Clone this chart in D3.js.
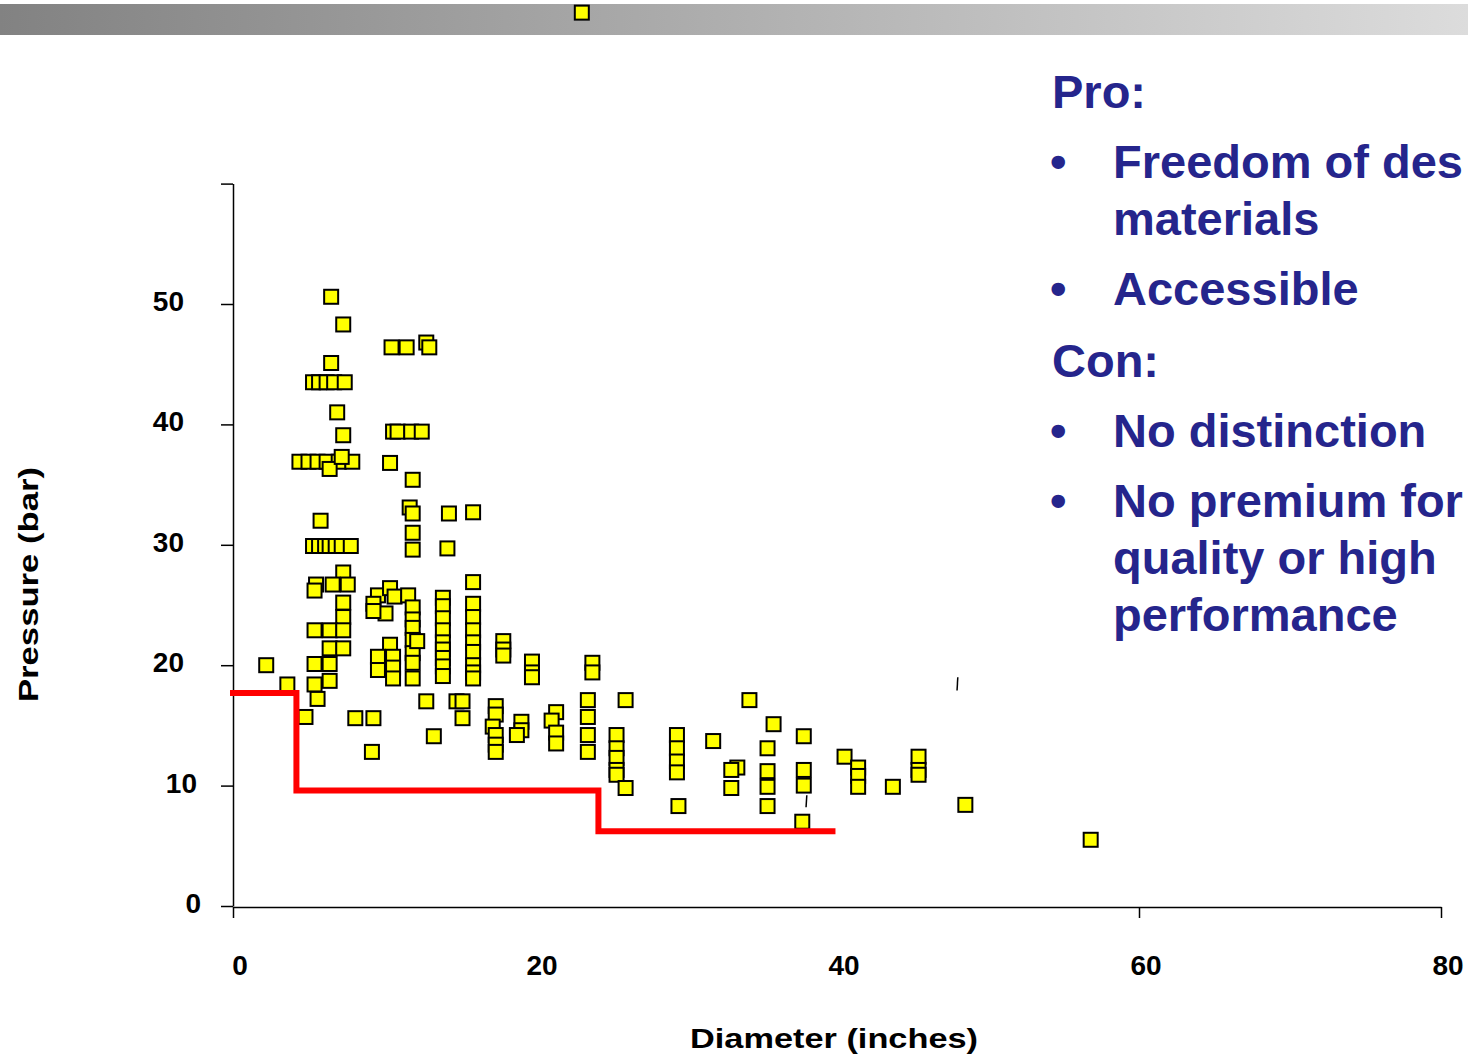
<!DOCTYPE html>
<html>
<head>
<meta charset="utf-8">
<script src="https://cdn.jsdelivr.net/npm/d3@7"></script>
<style>
  html, body { margin: 0; padding: 0; background: #ffffff; overflow: hidden; }
  svg { display: block; }
</style>
</head>
<body>
<script>
// Pipe diameter (inches) and pressure rating (bar) for each product
const diameter = [
  23.1, 6.5, 7.3, 10.5, 11.5, 12.8, 13.0, 6.5,
  5.3, 5.7, 6.2, 6.7, 7.4, 6.9,
  10.6, 10.9, 11.8, 12.5, 7.3,
  4.4, 5.0, 5.6, 6.2, 7.0, 7.9, 6.4, 7.2, 10.4,
  11.9, 11.7, 11.9, 14.3, 15.9, 5.8, 11.9, 11.9, 14.2,
  5.3, 5.7, 6.1, 6.4, 6.8, 7.2, 7.8,
  7.3, 5.5, 5.4, 6.6, 7.6, 7.3, 7.3,
  5.4, 6.4, 7.3, 6.4, 7.3, 5.4, 6.4, 5.4, 6.4, 5.6, 3.6, 2.2, 4.8, 8.1, 9.3, 9.2,
  9.6, 9.3, 10.4, 10.7, 11.6, 10.1, 9.3,
  11.9, 11.9, 11.9, 11.9, 11.9, 11.9, 11.9, 12.2,
  10.4, 9.6, 9.6, 10.6, 10.6, 10.6,
  13.9, 13.9, 13.9, 13.9, 13.9, 13.9, 13.9, 13.9, 13.9,
  15.9, 15.9, 15.9, 15.9, 15.9, 15.9, 15.9, 15.9, 15.9,
  17.9, 17.9, 17.9, 19.8, 19.8, 19.8, 23.8, 23.8,
  12.8, 14.8, 15.2, 15.2, 13.3,
  17.4, 17.4, 17.2, 17.4, 17.4, 17.4,
  19.1, 19.1, 18.8,
  21.4, 21.1, 21.4, 21.4,
  23.5, 23.5, 23.5, 23.5,
  25.4, 25.4, 25.4, 25.4, 25.4, 26.0, 26.0,
  29.4, 29.4, 29.4, 29.4, 29.5, 31.8,
  33.4, 33.0, 33.0, 34.2, 35.8,
  35.4, 35.4, 35.4, 35.4,
  37.8, 37.8, 37.8, 37.7,
  40.5, 41.4, 41.4, 41.4, 43.7,
  45.4, 45.4, 45.4, 48.5, 56.8
];
const pressure = [
  74.2, 50.6, 48.3, 46.4, 46.4, 46.8, 46.4, 45.1,
  43.5, 43.5, 43.5, 43.5, 43.5, 41.0,
  39.4, 39.4, 39.4, 39.4, 39.1,
  36.9, 36.9, 36.9, 36.9, 36.9, 36.9, 36.3, 37.3, 36.8,
  35.4, 33.1, 32.6, 32.6, 32.7, 32.0, 31.0, 29.6, 29.7,
  29.9, 29.9, 29.9, 29.9, 29.9, 29.9, 29.9,
  27.7, 26.7, 26.2, 26.7, 26.7, 25.2, 24.0,
  22.9, 22.9, 22.9, 21.4, 21.4, 20.1, 20.1, 18.4, 18.7, 17.2, 18.4, 20.0, 15.7, 15.6, 15.6, 12.8,
  25.8, 25.1, 26.4, 25.7, 25.8, 24.3, 24.5,
  24.8, 23.8, 23.1, 22.1, 21.0, 20.2, 18.9, 22.0,
  21.7, 20.7, 19.6, 20.7, 19.8, 18.9,
  25.6, 24.9, 23.9, 22.9, 21.9, 21.3, 20.6, 19.9, 19.1,
  26.9, 25.1, 24.0, 22.9, 21.9, 21.1, 20.0, 19.4, 18.9,
  22.0, 21.3, 20.8, 20.3, 19.4, 19.0, 20.2, 19.4,
  17.0, 17.0, 17.0, 15.6, 14.1,
  16.6, 15.9, 14.9, 14.2, 13.4, 12.8,
  15.3, 14.6, 14.2,
  16.1, 15.4, 14.4, 13.5,
  17.1, 15.7, 14.2, 12.8,
  14.2, 13.1, 12.3, 11.3, 10.9, 17.1, 9.8,
  14.2, 13.1, 12.0, 11.1, 8.3, 13.7,
  11.5, 11.3, 9.8, 17.1, 15.1,
  13.1, 11.2, 9.9, 8.3,
  14.1, 11.3, 10.0, 7.0,
  12.4, 11.5, 10.8, 9.9, 9.9,
  12.4, 11.3, 10.9, 8.4, 5.5
];

// Short error-bar stubs: [diameter from, diameter to] / [pressure from, pressure to]
const stubDiameter = [[48.0, 47.95], [38.0, 37.95]];
const stubPressure = [[19.0, 17.9], [9.2, 8.2]];

// Minimum pressure requirement, stepping down with diameter
const limitDiameter = [0, 4.2, 24.2, 39.7];
const limitPressure = [17.7, 9.6, 6.2, 6.2];

// Axis ticks
const xTickMarks = [0, 60, 80];
const xTickLabels = [0, 20, 40, 60, 80];
const yTickMarks = [0, 10, 20, 30, 40, 50, 60];
const yTickLabels = [0, 10, 20, 30, 40, 50];

// Side notes
const proHeading = "Pro:";
const proItems = [["Freedom of des", "materials"], ["Accessible"]];
const conHeading = "Con:";
const conItems = [["No distinction"], ["No premium for", "quality or high", "performance"]];

const W = 1468, H = 1059;
const FONT = "'Liberation Sans', Arial, Helvetica, sans-serif";
const NAVY = "#25258c";

const svg = d3.select("body").append("svg")
  .attr("width", W).attr("height", H)
  .attr("viewBox", `0 0 ${W} ${H}`);

// Header band
const grad = svg.append("defs").append("linearGradient")
  .attr("id", "band").attr("x1", "0%").attr("x2", "100%");
grad.append("stop").attr("offset", "0%").attr("stop-color", "#828282");
grad.append("stop").attr("offset", "100%").attr("stop-color", "#dcdcdc");
svg.append("rect").attr("x", 0).attr("y", 4).attr("width", W).attr("height", 31)
  .attr("fill", "url(#band)");

const x = d3.scaleLinear().domain([0, 80]).range([233, 1441]);
const y = d3.scaleLinear().domain([0, 60]).range([906, 183.6]);

// Y axis
const yAxis = svg.append("g").attr("transform", `translate(${x(0)},0)`)
  .call(d3.axisLeft(y).tickValues(yTickMarks).tickSize(12).tickSizeOuter(0).tickFormat(""));
yAxis.selectAll("path, line").attr("stroke", "#000").attr("stroke-width", 1.5);

// X axis
const xAxis = svg.append("g").attr("transform", `translate(0,${y(0) + 1})`)
  .call(d3.axisBottom(x).tickValues(xTickMarks).tickSize(11).tickSizeOuter(0).tickFormat(""));
xAxis.selectAll("path, line").attr("stroke", "#000").attr("stroke-width", 1.5);

// Tick labels
const yLabelNudge = v => (v === 10 ? 13 : v === 0 ? 17 : 0);
svg.append("g").selectAll("text").data(yTickLabels).join("text")
  .attr("x", d => 184 + yLabelNudge(d))
  .attr("y", d => y(d) + 7)
  .attr("text-anchor", "end")
  .attr("font-family", FONT).attr("font-weight", "bold").attr("font-size", 28)
  .attr("fill", "#000")
  .text(d => d);

svg.append("g").selectAll("text").data(xTickLabels).join("text")
  .attr("x", d => x(d) + 7)
  .attr("y", 975)
  .attr("text-anchor", "middle")
  .attr("font-family", FONT).attr("font-weight", "bold").attr("font-size", 28)
  .attr("fill", "#000")
  .text(d => d);

// Axis titles
svg.append("text")
  .attr("x", 690).attr("y", 1048)
  .attr("textLength", 288).attr("lengthAdjust", "spacingAndGlyphs")
  .attr("font-family", FONT).attr("font-weight", "bold").attr("font-size", 28)
  .attr("fill", "#000")
  .text("Diameter (inches)");

svg.append("text")
  .attr("transform", "translate(38,702) rotate(-90)")
  .attr("textLength", 235).attr("lengthAdjust", "spacingAndGlyphs")
  .attr("font-family", FONT).attr("font-weight", "bold").attr("font-size", 28)
  .attr("fill", "#000")
  .text("Pressure (bar)");

// Scatter markers
const points = diameter.map((d, i) => ({ d, p: pressure[i] }));
const S = 14;
svg.append("g").selectAll("rect").data(points).join("rect")
  .attr("x", d => x(d.d) - S / 2)
  .attr("y", d => y(d.p) - S / 2)
  .attr("width", S).attr("height", S)
  .attr("fill", "#ffff00")
  .attr("stroke", "#000").attr("stroke-width", 2);

// Error-bar stubs
svg.append("g").selectAll("line").data(stubDiameter).join("line")
  .attr("x1", d => x(d[0])).attr("x2", d => x(d[1]))
  .attr("y1", (d, i) => y(stubPressure[i][0])).attr("y2", (d, i) => y(stubPressure[i][1]))
  .attr("stroke", "#000").attr("stroke-width", 1.5);

// Minimum pressure step line
const limit = limitDiameter.map((d, i) => [d, limitPressure[i]]);
svg.append("path")
  .attr("d", d3.line().x(d => x(d[0])).y(d => y(d[1])).curve(d3.curveStepAfter)(limit))
  .attr("fill", "none")
  .attr("stroke", "#ff0000").attr("stroke-width", 6)
  .attr("stroke-linejoin", "miter").attr("stroke-linecap", "square");

// Pro / Con notes
const notes = svg.append("g")
  .attr("font-family", FONT).attr("font-weight", "bold").attr("font-size", 47)
  .attr("fill", NAVY);

let baseY = 108;
function block(heading, items) {
  notes.append("text").attr("x", 1052).attr("y", baseY).text(heading);
  items.forEach(lines => {
    baseY += 70;
    notes.append("text").attr("x", 1050).attr("y", baseY).text("\u2022");
    lines.forEach((ln, j) => {
      if (j > 0) baseY += 57;
      notes.append("text").attr("x", 1113).attr("y", baseY).text(ln);
    });
  });
  baseY += 72;
}
block(proHeading, proItems);
block(conHeading, conItems);
</script>
</body>
</html>
